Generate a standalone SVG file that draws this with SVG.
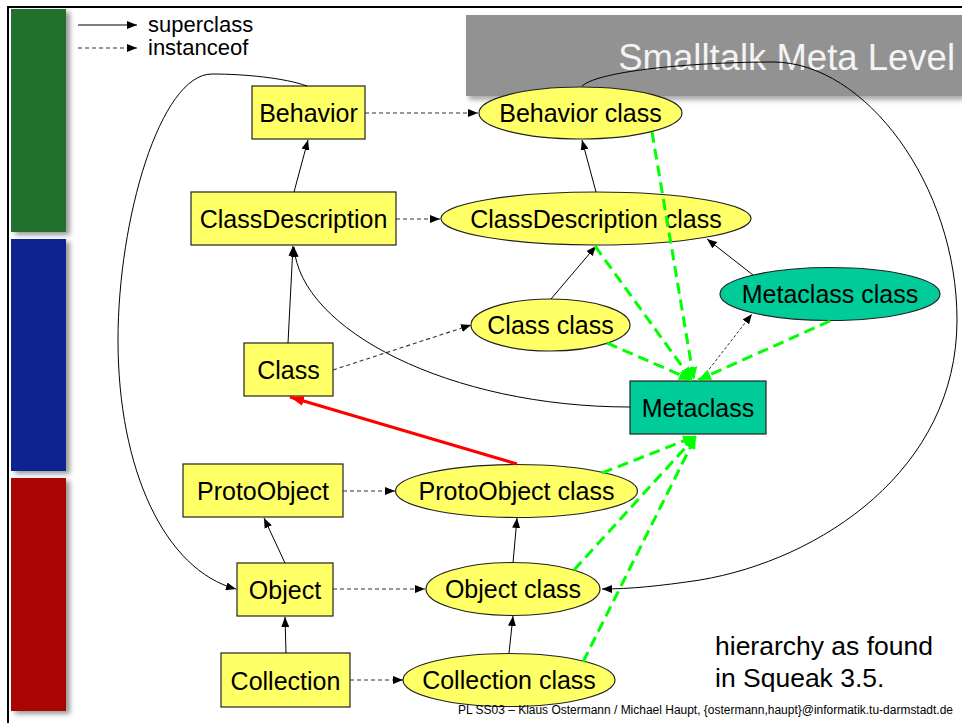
<svg xmlns="http://www.w3.org/2000/svg" width="962" height="723" viewBox="0 0 962 723">
<style>
.t{font-family:"Liberation Sans",Arial,sans-serif;fill:#000}
.n{font-size:25px;text-anchor:middle}
.box{fill:#FFFF66;stroke:#222;stroke-width:1.2}
.teal{fill:#00CC99;stroke:#222;stroke-width:1.2}
.sup{fill:none;stroke:#000;stroke-width:1;marker-end:url(#ab)}
.inst{fill:none;stroke:#333;stroke-width:1.1;stroke-dasharray:4,3;marker-end:url(#ab)}
.dot{fill:none;stroke:#333;stroke-width:1;stroke-dasharray:3,2;marker-end:url(#ab)}
.grn{fill:none;stroke:#00FF00;stroke-width:3;stroke-dasharray:11,6;marker-end:url(#ag)}
</style>
<defs>
<marker id="ab" markerUnits="userSpaceOnUse" markerWidth="10" markerHeight="8" refX="10" refY="4" orient="auto"><path d="M0,0 L10,4 L0,8 z" fill="#000"/></marker>
<marker id="ar" markerUnits="userSpaceOnUse" markerWidth="14" markerHeight="10" refX="14" refY="5" orient="auto"><path d="M0,0 L14,5 L0,10 z" fill="#FF0000"/></marker>
<marker id="ag" markerUnits="userSpaceOnUse" markerWidth="13" markerHeight="11" refX="13" refY="5.5" orient="auto"><path d="M0,0 L13,5.5 L0,11 z" fill="#00FF00"/></marker>
<filter id="sh" x="-20%" y="-20%" width="140%" height="140%"><feGaussianBlur stdDeviation="2.5"/></filter>
</defs>
<rect x="0" y="0" width="962" height="723" fill="#fff"/>
<!-- side bars -->
<g id="bars">
<rect x="15" y="12" width="55" height="223" fill="#999" filter="url(#sh)"/>
<rect x="15" y="242" width="55" height="232" fill="#999" filter="url(#sh)"/>
<rect x="15" y="481" width="55" height="233" fill="#999" filter="url(#sh)"/>
<rect x="11" y="9" width="55" height="223" fill="#22702D"/>
<rect x="11" y="239" width="55" height="232" fill="#0F2390"/>
<rect x="11" y="478" width="55" height="233" fill="#AA0404"/>
<rect x="7" y="6" width="955" height="2" fill="#000"/>
<rect x="7" y="6" width="2" height="717" fill="#000"/>
</g>
<!-- title -->
<g id="title">
<rect x="469" y="19" width="496" height="81" fill="#aaa" filter="url(#sh)"/>
<rect x="466" y="15" width="496" height="81" fill="#929292"/>
<text class="t" x="955" y="70" font-size="36.5" text-anchor="end" style="fill:#F4F4F4">Smalltalk Meta Level</text>
</g>
<!-- legend -->
<g id="legend">
<line x1="78" y1="25" x2="137" y2="25" class="sup"/>
<line x1="78" y1="48" x2="137" y2="48" class="inst"/>
<text class="t" x="148" y="32" font-size="22">superclass</text>
<text class="t" x="148" y="55" font-size="22">instanceof</text>
</g>
<!-- nodes -->
<g id="Behavior"><rect class="box" x="252" y="86" width="113" height="53"/><text class="t n" x="308.5" y="122">Behavior</text></g>
<g id="ClassDescription"><rect class="box" x="191" y="192" width="205" height="53"/><text class="t n" x="293.5" y="228">ClassDescription</text></g>
<g id="Class"><rect class="box" x="244" y="343" width="89" height="53"/><text class="t n" x="288.5" y="379">Class</text></g>
<g id="Metaclass"><rect class="teal" x="630" y="381" width="136" height="53"/><text class="t n" x="698" y="417">Metaclass</text></g>
<g id="ProtoObject"><rect class="box" x="183" y="464" width="160" height="53"/><text class="t n" x="263" y="500">ProtoObject</text></g>
<g id="Object"><rect class="box" x="237" y="563" width="96" height="53"/><text class="t n" x="285" y="599">Object</text></g>
<g id="Collection"><rect class="box" x="221" y="653" width="129" height="54"/><text class="t n" x="285.5" y="689.5">Collection</text></g>
<g id="BehaviorClass"><ellipse class="box" cx="580.5" cy="113" rx="101.5" ry="26"/><text class="t n" x="580.5" y="122">Behavior class</text></g>
<g id="ClassDescriptionClass"><ellipse class="box" cx="596" cy="218.5" rx="155" ry="26.5"/><text class="t n" x="596" y="228">ClassDescription class</text></g>
<g id="ClassClass"><ellipse class="box" cx="550.5" cy="325" rx="79.5" ry="26"/><text class="t n" x="550.5" y="334">Class class</text></g>
<g id="MetaclassClass"><ellipse class="teal" cx="830" cy="294" rx="110" ry="26.5"/><text class="t n" x="830" y="303">Metaclass class</text></g>
<g id="ProtoObjectClass"><ellipse class="box" cx="516.5" cy="491" rx="121" ry="26.5"/><text class="t n" x="516.5" y="500">ProtoObject class</text></g>
<g id="ObjectClass"><ellipse class="box" cx="513" cy="589" rx="87" ry="26.5"/><text class="t n" x="513" y="598">Object class</text></g>
<g id="CollectionClass"><ellipse class="box" cx="509" cy="680" rx="106" ry="26.5"/><text class="t n" x="509" y="689">Collection class</text></g>
<!-- connectors -->
<g id="connectors">
<line class="inst" x1="365" y1="113" x2="478" y2="113"/>
<line class="sup" x1="294" y1="192" x2="308" y2="140"/>
<line class="inst" x1="396" y1="219" x2="440" y2="219"/>
<line class="sup" x1="596" y1="192" x2="582" y2="140"/>
<line class="sup" x1="288" y1="343" x2="293" y2="246"/>
<line class="sup" x1="551" y1="299" x2="596" y2="246"/>
<line class="inst" x1="333" y1="370" x2="471" y2="325"/>
<line class="sup" x1="753" y1="275" x2="707" y2="239"/>
<path class="sup" d="M630,407 C450,407 300,330 294,247"/>
<line class="dot" x1="700" y1="381" x2="752" y2="314"/>
<line class="inst" x1="343" y1="491" x2="395" y2="491"/>
<line class="sup" x1="285" y1="563" x2="264" y2="518"/>
<line class="inst" x1="333" y1="589" x2="425" y2="589"/>
<line class="sup" x1="513" y1="563" x2="517" y2="518"/>
<line class="sup" x1="286" y1="653" x2="285" y2="617"/>
<line class="inst" x1="350" y1="680" x2="403" y2="680"/>
<line class="sup" x1="509" y1="653" x2="513" y2="616"/>
<path class="sup" d="M307,86 C285,78 245,74 212,74 C160,74 118,220 118,340 C118,470 165,570 236,589"/>
<path class="sup" d="M582,86 C600,70 700,62 773,62 C865,62 957,185 957,320 C957,470 820,560 700,580 C660,586 630,589 602,589"/>
<line x1="517" y1="464" x2="290" y2="397" stroke="#FF0000" stroke-width="3" marker-end="url(#ar)"/>
<line class="grn" x1="652" y1="132" x2="694" y2="380"/>
<line class="grn" x1="595" y1="246" x2="692" y2="380"/>
<line class="grn" x1="607" y1="343" x2="692" y2="380"/>
<line class="grn" x1="830" y1="321" x2="698" y2="380"/>
<line class="grn" x1="602" y1="473" x2="696" y2="436"/>
<line class="grn" x1="574" y1="570" x2="696" y2="436"/>
<line class="grn" x1="583" y1="662" x2="696" y2="436"/>
</g>
<!-- notes -->
<g id="notes">
<text class="t" x="715" y="655" font-size="26.5">hierarchy as found</text>
<text class="t" x="715" y="687" font-size="26.5">in Squeak 3.5.</text>
<text class="t" x="458" y="714" font-size="12" textLength="495" lengthAdjust="spacingAndGlyphs">PL SS03 – Klaus Ostermann / Michael Haupt, {ostermann,haupt}@informatik.tu-darmstadt.de</text>
</g>
</svg>
